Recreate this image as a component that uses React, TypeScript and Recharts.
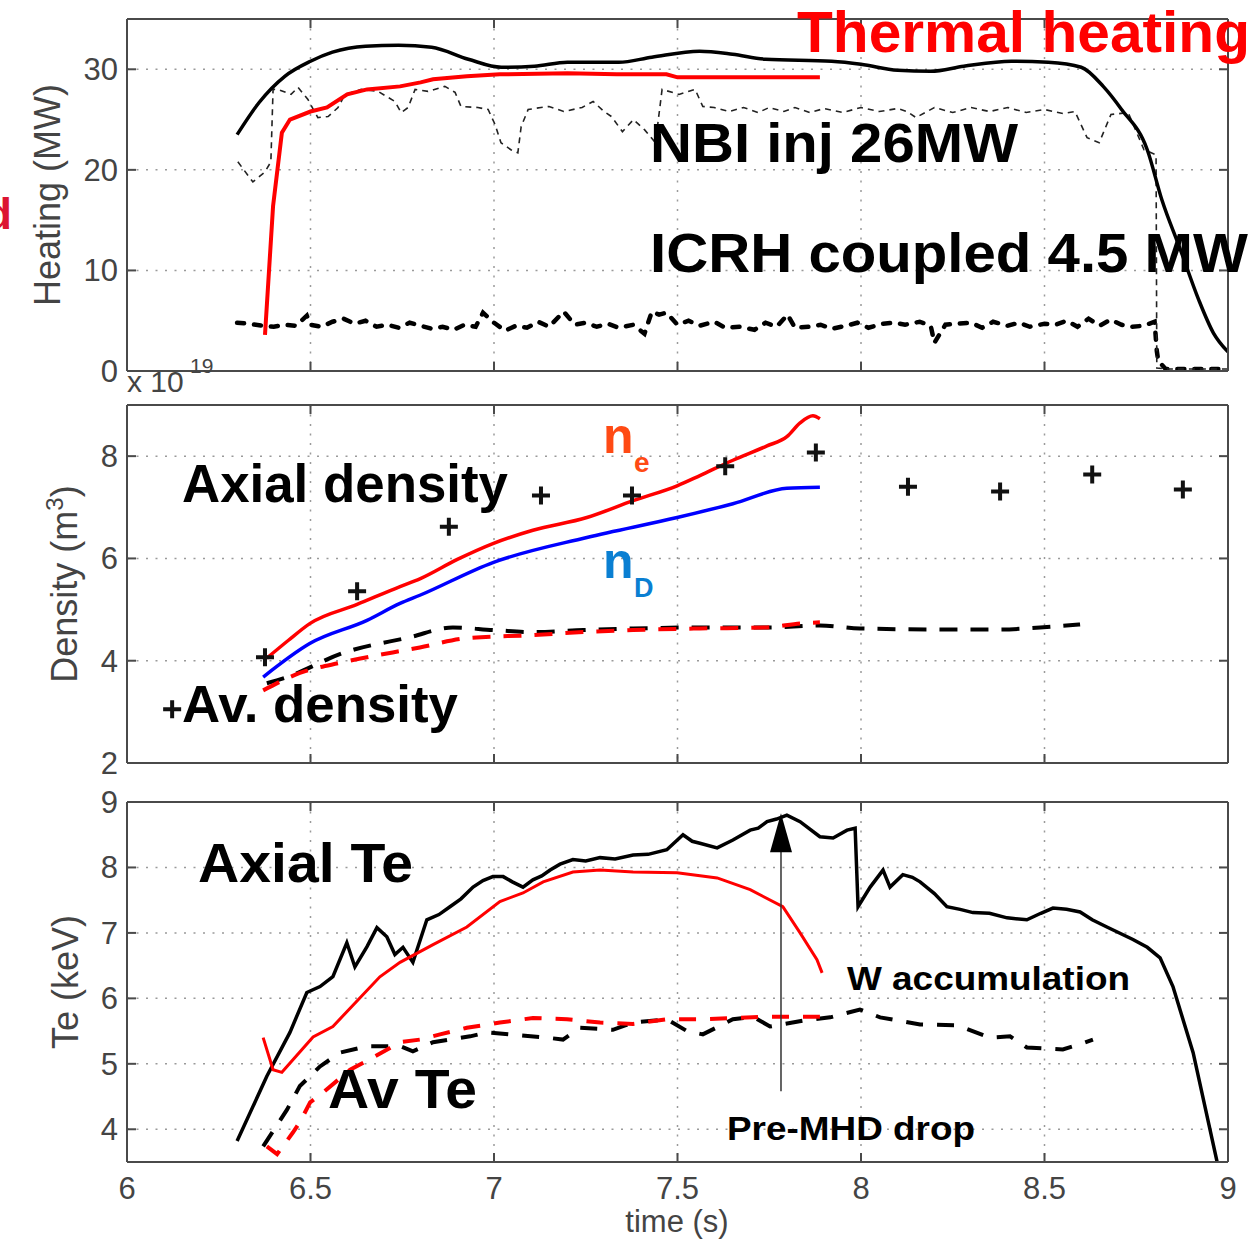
import React from 'react';
import {
  ComposedChart,
  Line,
  Scatter,
  XAxis,
  YAxis,
  CartesianGrid,
  ReferenceLine,
  ReferenceDot,
} from 'recharts';

// shared time axis
const timeTicks = [6, 6.5, 7, 7.5, 8, 8.5, 9];

// --- heating (MW) ---
const heatTicks = [0, 10, 20, 30];
const totalT = [6.3, 6.36, 6.43, 6.5, 6.56, 6.65, 6.74, 6.83, 6.93, 7.02, 7.11, 7.2, 7.34, 7.43, 7.56, 7.65, 7.74, 7.92, 8.0, 8.1, 8.19, 8.28, 8.41, 8.51, 8.6, 8.66, 8.71, 8.78, 8.82, 8.87, 8.92, 8.96, 9.0];
const totalMW = [23.5, 26.7, 29.3, 30.8, 31.7, 32.3, 32.4, 32.2, 31.0, 30.2, 30.3, 30.7, 30.7, 31.2, 31.8, 31.5, 31.0, 30.8, 30.5, 29.9, 29.8, 30.3, 30.8, 30.7, 30.2, 28.3, 26.0, 22.0, 17.0, 12.1, 7.1, 3.8, 1.9];
const thermalT = [6.376, 6.398, 6.422, 6.444, 6.5, 6.545, 6.6, 6.654, 6.744, 6.8, 6.834, 6.926, 7.016, 7.2, 7.335, 7.47, 7.5, 7.888];
const thermalMW = [3.6, 16.4, 23.7, 25.0, 25.8, 26.2, 27.5, 28.0, 28.3, 28.7, 29.0, 29.3, 29.5, 29.6, 29.5, 29.5, 29.2, 29.2];
const nbiT = [6.302, 6.343, 6.376, 6.392, 6.398, 6.411, 6.447, 6.466, 6.493, 6.52, 6.548, 6.575, 6.594, 6.638, 6.684, 6.73, 6.747, 6.766, 6.785, 6.82, 6.866, 6.894, 6.91, 6.956, 6.984, 7.003, 7.019, 7.046, 7.065, 7.074, 7.093, 7.128, 7.15, 7.19, 7.24, 7.27, 7.3, 7.32, 7.35, 7.38, 7.41, 7.44, 7.458, 7.504, 7.548, 7.569, 7.6, 7.64, 7.68, 7.72, 7.75, 7.79, 7.82, 7.86, 7.9, 7.95, 8.0, 8.05, 8.1, 8.125, 8.15, 8.2, 8.25, 8.3, 8.35, 8.4, 8.45, 8.5, 8.55, 8.583, 8.616, 8.649, 8.681, 8.728, 8.771, 8.804, 8.806, 8.83, 9.0];
const nbiMW = [20.8, 18.8, 19.8, 20.8, 28.0, 28.0, 27.5, 28.2, 27.0, 25.2, 25.3, 26.2, 27.5, 28.0, 27.8, 26.8, 25.7, 26.2, 28.0, 27.8, 28.3, 27.7, 26.3, 26.2, 26.0, 24.5, 22.7, 22.0, 21.7, 24.3, 26.0, 26.2, 26.3, 25.8, 26.2, 26.8, 25.8, 25.3, 23.8, 25.0, 24.0, 22.7, 28.0, 27.5, 28.0, 26.3, 26.2, 25.8, 26.2, 25.7, 26.2, 25.8, 26.2, 25.7, 26.1, 25.7, 26.2, 25.8, 26.1, 25.8, 25.2, 26.2, 25.7, 26.2, 25.8, 26.2, 25.7, 26.0, 25.6, 25.8, 23.2, 22.7, 25.5, 25.7, 22.0, 21.5, 0.3, 0.2, 0.2];
const icrhT = [6.3, 6.33, 6.37, 6.4, 6.43, 6.46, 6.49, 6.5, 6.53, 6.56, 6.59, 6.62, 6.65, 6.68, 6.71, 6.74, 6.77, 6.8, 6.83, 6.86, 6.89, 6.92, 6.95, 6.97, 7.0, 7.03, 7.06, 7.09, 7.12, 7.15, 7.19, 7.22, 7.25, 7.28, 7.31, 7.34, 7.38, 7.41, 7.43, 7.45, 7.47, 7.5, 7.53, 7.56, 7.6, 7.63, 7.67, 7.71, 7.74, 7.77, 7.8, 7.82, 7.86, 7.89, 7.92, 7.96, 7.99, 8.02, 8.06, 8.09, 8.12, 8.16, 8.19, 8.2, 8.23, 8.26, 8.3, 8.33, 8.36, 8.4, 8.43, 8.46, 8.5, 8.53, 8.56, 8.59, 8.62, 8.65, 8.68, 8.71, 8.74, 8.77, 8.8, 8.806, 8.81, 8.83, 9.0];
const icrhMW = [4.8, 4.7, 4.5, 4.4, 4.6, 4.5, 5.5, 4.6, 4.4, 4.9, 5.2, 4.7, 5.0, 4.4, 4.6, 4.3, 4.8, 4.5, 4.2, 4.4, 4.1, 4.6, 4.4, 5.8, 4.8, 4.0, 4.5, 4.3, 4.9, 4.4, 5.9, 4.6, 4.8, 4.4, 4.7, 4.3, 4.6, 3.7, 5.9, 5.6, 5.8, 4.6, 5.0, 4.5, 4.9, 4.3, 4.4, 4.1, 4.8, 4.4, 5.6, 4.3, 4.4, 4.6, 4.2, 4.5, 4.8, 4.3, 4.7, 4.8, 4.6, 4.9, 4.5, 2.8, 4.6, 4.7, 4.8, 4.3, 4.9, 4.5, 4.8, 4.4, 4.7, 4.6, 5.0, 4.4, 5.2, 4.5, 5.1, 4.6, 4.4, 4.5, 4.9, 2.0, 1.0, 0.2, 0.2];

// --- density (1e19 m^-3) ---
const densTicks = [2, 4, 6, 8];
const neT = [6.381, 6.44, 6.499, 6.627, 6.744, 6.798, 6.9, 6.997, 7.106, 7.253, 7.379, 7.499, 7.561, 7.651, 7.744, 7.798, 7.834, 7.869, 7.888];
const neAxial = [4.05, 4.4, 4.73, 5.1, 5.45, 5.6, 5.98, 6.29, 6.55, 6.8, 7.13, 7.42, 7.62, 7.92, 8.2, 8.38, 8.65, 8.79, 8.73];
const nDT = [6.371, 6.499, 6.654, 6.744, 6.798, 6.997, 7.253, 7.499, 7.651, 7.798, 7.888];
const nDAxial = [3.68, 4.34, 4.79, 5.12, 5.28, 5.92, 6.41, 6.8, 7.07, 7.37, 7.39];
const neAvT = [6.371, 6.471, 6.588, 6.798, 6.926, 7.106, 7.243, 7.379, 7.561, 7.744, 7.834, 7.888];
const neAvg = [3.42, 3.76, 3.97, 4.26, 4.44, 4.5, 4.56, 4.6, 4.63, 4.65, 4.73, 4.75];
const measAvT = [6.381, 6.436, 6.588, 6.771, 6.888, 6.997, 7.106, 7.243, 7.379, 7.561, 7.744, 7.888, 7.997, 8.243, 8.379, 8.488, 8.597];
const measAvg = [3.56, 3.68, 4.15, 4.46, 4.65, 4.6, 4.56, 4.6, 4.63, 4.65, 4.65, 4.69, 4.63, 4.61, 4.61, 4.65, 4.71];
const tsT = [6.123, 6.376, 6.627, 6.877, 7.128, 7.376, 7.63, 7.877, 8.128, 8.379, 8.63, 8.877];
const tsDensity = [3.05, 4.07, 5.36, 6.62, 7.23, 7.23, 7.8, 8.07, 7.4, 7.31, 7.64, 7.35];

// --- electron temperature (keV) ---
const teTicks = [4, 5, 6, 7, 8, 9];
const teAxT = [6.3, 6.381, 6.444, 6.49, 6.526, 6.561, 6.599, 6.621, 6.654, 6.681, 6.708, 6.73, 6.752, 6.779, 6.817, 6.85, 6.88, 6.91, 6.943, 6.97, 6.997, 7.025, 7.05, 7.079, 7.106, 7.13, 7.153, 7.18, 7.215, 7.25, 7.289, 7.33, 7.379, 7.42, 7.471, 7.515, 7.54, 7.561, 7.608, 7.651, 7.698, 7.72, 7.744, 7.77, 7.798, 7.834, 7.888, 7.924, 7.962, 7.984, 7.992, 8.025, 8.06, 8.079, 8.114, 8.14, 8.161, 8.2, 8.234, 8.27, 8.305, 8.35, 8.398, 8.452, 8.49, 8.523, 8.56, 8.597, 8.63, 8.67, 8.741, 8.78, 8.815, 8.85, 8.905, 8.97];
const teAxial = [3.82, 4.81, 5.48, 6.09, 6.18, 6.33, 6.85, 6.48, 6.79, 7.08, 6.94, 6.67, 6.78, 6.55, 7.2, 7.28, 7.4, 7.52, 7.7, 7.8, 7.86, 7.86, 7.78, 7.7, 7.81, 7.87, 7.96, 8.05, 8.12, 8.1, 8.15, 8.13, 8.19, 8.2, 8.27, 8.5, 8.4, 8.37, 8.3, 8.42, 8.57, 8.6, 8.7, 8.74, 8.8, 8.7, 8.47, 8.45, 8.57, 8.6, 7.4, 7.7, 7.96, 7.7, 7.89, 7.85, 7.78, 7.6, 7.4, 7.36, 7.31, 7.3, 7.23, 7.2, 7.3, 7.38, 7.36, 7.32, 7.2, 7.09, 6.9, 6.78, 6.62, 6.18, 5.17, 3.51];
const teSimT = [6.371, 6.398, 6.422, 6.507, 6.561, 6.689, 6.744, 6.834, 6.926, 7.016, 7.079, 7.134, 7.215, 7.289, 7.379, 7.499, 7.608, 7.698, 7.787, 7.834, 7.88, 7.894];
const teSim = [5.4, 4.91, 4.87, 5.41, 5.57, 6.33, 6.55, 6.82, 7.09, 7.48, 7.61, 7.78, 7.93, 7.96, 7.93, 7.92, 7.84, 7.66, 7.4, 7.0, 6.59, 6.39];
const teAvT = [6.371, 6.436, 6.471, 6.526, 6.58, 6.654, 6.744, 6.779, 6.834, 6.935, 6.981, 7.044, 7.144, 7.188, 7.234, 7.324, 7.379, 7.471, 7.526, 7.569, 7.651, 7.706, 7.752, 7.842, 7.916, 7.997, 8.052, 8.161, 8.262, 8.351, 8.406, 8.452, 8.55, 8.597, 8.632];
const teAvg = [3.74, 4.3, 4.66, 4.96, 5.17, 5.27, 5.27, 5.19, 5.33, 5.42, 5.48, 5.45, 5.4, 5.37, 5.55, 5.52, 5.63, 5.68, 5.5, 5.45, 5.68, 5.72, 5.57, 5.66, 5.71, 5.83, 5.71, 5.6, 5.59, 5.4, 5.42, 5.25, 5.22, 5.3, 5.37];
const teSimAvT = [6.381, 6.409, 6.452, 6.471, 6.499, 6.534, 6.608, 6.662, 6.744, 6.798, 6.853, 6.926, 7.016, 7.106, 7.199, 7.289, 7.379, 7.471, 7.561, 7.651, 7.744, 7.888];
const teSimAvg = [3.74, 3.62, 3.95, 4.11, 4.41, 4.56, 4.91, 5.07, 5.33, 5.37, 5.45, 5.55, 5.63, 5.7, 5.68, 5.63, 5.61, 5.68, 5.68, 5.7, 5.72, 5.72];

// pre-MHD arrow (time, keV)
const arrowT = 7.782;
const arrowFoot = 4.58;
const arrowNeck = 8.3;
const arrowTip = 8.83;

const zip = (ts: number[], vs: number[]) => ts.map((t, i) => ({ t, v: vs[i] }));

const FONT = "'Liberation Sans', Arial, Helvetica, sans-serif";
const AXIS = '#4a4a4a';
const tickFont = { fontSize: 31, fill: '#444', fontFamily: FONT };

// boxed axes: labelled left/bottom, bare right/top, all ticks pointing inward
function frame(yDomain: number[], yTicks: number[], xLabels: boolean) {
  return [
    <CartesianGrid key="grid" stroke="#9a9a9a" strokeDasharray="2 7.5" strokeWidth={1.5} />,
    <XAxis
      key="xb"
      dataKey="t"
      type="number"
      domain={[6, 9]}
      ticks={timeTicks}
      interval={0}
      allowDataOverflow
      height={xLabels ? 70 : 1}
      tickSize={-9}
      tickMargin={xLabels ? 24 : 0}
      stroke={AXIS}
      strokeWidth={2}
      tick={tickFont}
      tickFormatter={xLabels ? (v: number) => String(v) : () => ''}
    />,
    <XAxis
      key="xt"
      xAxisId="top"
      orientation="top"
      dataKey="t"
      type="number"
      domain={[6, 9]}
      ticks={timeTicks}
      interval={0}
      allowDataOverflow
      height={1}
      tickSize={-9}
      stroke={AXIS}
      strokeWidth={2}
      tickFormatter={() => ''}
    />,
    <YAxis
      key="yl"
      type="number"
      domain={yDomain}
      ticks={yTicks}
      interval={0}
      allowDataOverflow
      width={127}
      tickSize={-9}
      tickMargin={18}
      stroke={AXIS}
      strokeWidth={2}
      tick={tickFont}
    />,
    <YAxis
      key="yr"
      yAxisId="right"
      orientation="right"
      type="number"
      domain={yDomain}
      ticks={yTicks}
      interval={0}
      allowDataOverflow
      width={1}
      tickSize={-9}
      stroke={AXIS}
      strokeWidth={2}
      tickFormatter={() => ''}
    />,
  ];
}

const PlusMark = (props: any) => {
  const { cx, cy } = props;
  return (
    <path
      d={`M${cx - 9},${cy}H${cx + 9}M${cx},${cy - 9}V${cy + 9}`}
      stroke="#111"
      strokeWidth={4}
      fill="none"
    />
  );
};

const ArrowHead = (props: any) => {
  const { cx, cy } = props;
  return <polygon points={`${cx},${cy} ${cx - 11},${cy + 39} ${cx + 11},${cy + 39}`} fill="#000" />;
};

// panel boxes (page px): heating 19..371, density 405..763, Te 802..1162
function HeatingPanel() {
  return (
    <ComposedChart width={1258} height={395} margin={{ top: 18, right: 29, bottom: 23, left: 0 }}>
      {frame([0, 35], heatTicks, false)}
      <Line data={zip(icrhT, icrhMW)} dataKey="v" type="linear" stroke="#000" strokeWidth={4.5}
        strokeDasharray="7 10" strokeLinecap="round" dot={false} isAnimationActive={false} />
      <Line data={zip(nbiT, nbiMW)} dataKey="v" type="linear" stroke="#222" strokeWidth={1.6}
        strokeDasharray="6 5" dot={false} isAnimationActive={false} />
      <Line data={zip(totalT, totalMW)} dataKey="v" type="monotone" stroke="#000" strokeWidth={3.5}
        dot={false} isAnimationActive={false} />
      <Line data={zip(thermalT, thermalMW)} dataKey="v" type="linear" stroke="#ff0000" strokeWidth={4}
        dot={false} isAnimationActive={false} />
    </ComposedChart>
  );
}

function DensityPanel() {
  return (
    <ComposedChart width={1258} height={400} margin={{ top: 14, right: 29, bottom: 26, left: 0 }}>
      {frame([2, 9], densTicks, false)}
      <Line data={zip(measAvT, measAvg)} dataKey="v" type="monotone" stroke="#000" strokeWidth={4}
        strokeDasharray="18 13" dot={false} isAnimationActive={false} />
      <Line data={zip(neAvT, neAvg)} dataKey="v" type="monotone" stroke="#ff0000" strokeWidth={4}
        strokeDasharray="18 13" dot={false} isAnimationActive={false} />
      <Line data={zip(nDT, nDAxial)} dataKey="v" type="monotone" stroke="#0000ff" strokeWidth={3.5}
        dot={false} isAnimationActive={false} />
      <Line data={zip(neT, neAxial)} dataKey="v" type="monotone" stroke="#ff0000" strokeWidth={3.5}
        dot={false} isAnimationActive={false} />
      <Scatter data={zip(tsT, tsDensity)} dataKey="v" shape={PlusMark} isAnimationActive={false} />
    </ComposedChart>
  );
}

function TePanel() {
  return (
    <ComposedChart width={1258} height={463} margin={{ top: 21, right: 29, bottom: 11, left: 0 }}>
      {frame([3.5, 9], teTicks, true)}
      <Line data={zip(teAvT, teAvg)} dataKey="v" type="linear" stroke="#000" strokeWidth={4}
        strokeDasharray="17 14" dot={false} isAnimationActive={false} />
      <Line data={zip(teSimAvT, teSimAvg)} dataKey="v" type="linear" stroke="#ff0000" strokeWidth={4}
        strokeDasharray="17 14" dot={false} isAnimationActive={false} />
      <Line data={zip(teAxT, teAxial)} dataKey="v" type="linear" stroke="#000" strokeWidth={3.5}
        dot={false} isAnimationActive={false} />
      <Line data={zip(teSimT, teSim)} dataKey="v" type="linear" stroke="#ff0000" strokeWidth={3}
        dot={false} isAnimationActive={false} />
      <ReferenceLine
        segment={[{ x: arrowT, y: arrowFoot }, { x: arrowT, y: arrowNeck }]}
        stroke="#333"
        strokeWidth={1.5}
      />
      <ReferenceDot x={arrowT} y={arrowTip} r={0} shape={ArrowHead} ifOverflow="visible" />
    </ComposedChart>
  );
}

const bold = { fontFamily: FONT, fontWeight: 700 } as const;

function Labels() {
  return (
    <svg width={1258} height={1243} style={{ position: 'absolute', left: 0, top: 0, pointerEvents: 'none' }}>
      {/* axis titles */}
      <g fill="#444" fontFamily={FONT}>
        <text transform="translate(60,195) rotate(-90)" textAnchor="middle" fontSize={36}>Heating (MW)</text>
        <text transform="translate(77,584) rotate(-90)" textAnchor="middle" fontSize={36}>
          Density (m<tspan dy={-14} fontSize={24}>3</tspan><tspan dy={14}>)</tspan>
        </text>
        <text transform="translate(78,982) rotate(-90)" textAnchor="middle" fontSize={36}>Te (keV)</text>
        <text x={127} y={392} fontSize={30}>x 10</text>
        <text x={190} y={373} fontSize={21}>19</text>
        <text x={677} y={1232} textAnchor="middle" fontSize={31}>time (s)</text>
      </g>

      {/* annotations */}
      <text x={12} y={229} textAnchor="end" fontSize={45} fill="#dc1432" {...bold}>d</text>
      <text x={797} y={52} fontSize={58} fill="#ff0000" textLength={453} lengthAdjust="spacingAndGlyphs" {...bold}>Thermal heating</text>
      <text x={650} y={162} fontSize={56} fill="#000" textLength={368} lengthAdjust="spacingAndGlyphs" {...bold}>NBI inj 26MW</text>
      <text x={650} y={272} fontSize={56} fill="#000" textLength={598} lengthAdjust="spacingAndGlyphs" {...bold}>ICRH coupled 4.5 MW</text>

      <text x={182} y={502} fontSize={53} fill="#000" textLength={326} lengthAdjust="spacingAndGlyphs" {...bold}>Axial density</text>
      <text x={182} y={722} fontSize={52} fill="#000" textLength={276} lengthAdjust="spacingAndGlyphs" {...bold}>Av. density</text>
      <text x={603} y={453} fontSize={50} fill="#ff4a14" {...bold}>n</text>
      <text x={634} y={472} fontSize={28} fill="#ff4a14" {...bold}>e</text>
      <text x={603} y={578} fontSize={50} fill="#0a7fd2" {...bold}>n</text>
      <text x={634} y={597} fontSize={27} fill="#0a7fd2" {...bold}>D</text>

      <text x={198} y={882} fontSize={56} fill="#000" textLength={215} lengthAdjust="spacingAndGlyphs" {...bold}>Axial Te</text>
      <text x={328} y={1108} fontSize={55} fill="#000" textLength={149} lengthAdjust="spacingAndGlyphs" {...bold}>Av Te</text>
      <text x={847} y={990} fontSize={34} fill="#000" textLength={283} lengthAdjust="spacingAndGlyphs" {...bold}>W accumulation</text>
      <text x={727} y={1140} fontSize={34} fill="#000" textLength={248} lengthAdjust="spacingAndGlyphs" {...bold}>Pre-MHD drop</text>
    </svg>
  );
}

export default function App() {
  return (
    <div style={{ position: 'absolute', left: 0, top: 0, width: 1258, height: 1243, background: '#fff', overflow: 'hidden' }}>
      <div style={{ position: 'absolute', left: 0, top: 0 }}>
        <HeatingPanel />
      </div>
      <div style={{ position: 'absolute', left: 0, top: 390 }}>
        <DensityPanel />
      </div>
      <div style={{ position: 'absolute', left: 0, top: 780 }}>
        <TePanel />
      </div>
      <Labels />
    </div>
  );
}
